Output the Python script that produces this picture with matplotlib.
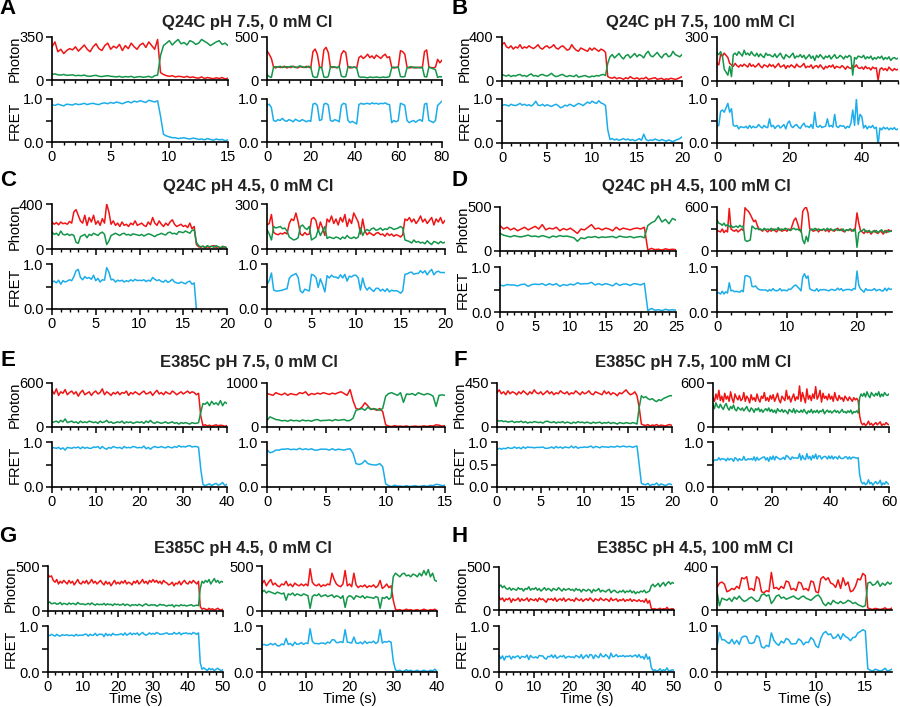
import matplotlib
matplotlib.use("Agg")
import matplotlib.pyplot as plt
from matplotlib.ticker import MultipleLocator
import numpy as np

plt.rcParams['font.family'] = ['Liberation Sans', 'DejaVu Sans']

RED = '#f01414'
GREEN = '#13964a'
BLUE = '#1badea'

# ---------------- data ----------------
# each series is sampled every *_dt seconds starting at t = 0

# A left, 0-15 s
a1_dt = 0.25
a1_red = [270, 310, 230, 250, 215, 240, 255, 245, 270, 235,
          260, 285, 250, 230, 270, 295, 255, 240, 280, 300,
          250, 275, 260, 290, 240, 280, 255, 300, 270, 250,
          285, 300, 265, 310, 280, 250, 330, 60,
          45, 35, 30, 35, 25, 30, 28, 22, 30, 20,
          25, 18, 15, 25, 12, 20, 15, 10, 18, 12, 20, 8, 15]
a1_green = [45, 50, 42, 40, 45, 38, 40, 42, 35, 38,
            35, 40, 32, 30, 35, 38, 30, 28, 32, 35,
            30, 28, 25, 30, 22, 28, 25, 30, 20, 25,
            28, 22, 25, 30, 20, 35, 40, 200,
            280, 300, 320, 285, 310, 330, 295, 305, 285, 320,
            310, 290, 300, 330, 315, 300, 280, 295, 310, 320, 290, 300, 280]
a1_fret = [0.87, 0.85, 0.88, 0.86, 0.84, 0.88, 0.87, 0.86, 0.89, 0.87,
           0.88, 0.90, 0.87, 0.89, 0.90, 0.88, 0.87, 0.90, 0.91, 0.89,
           0.92, 0.90, 0.93, 0.91, 0.89, 0.92, 0.94, 0.91, 0.95, 0.93,
           0.96, 0.94, 0.92, 0.97, 0.95, 0.93, 0.96, 0.60,
           0.18, 0.14, 0.12, 0.10, 0.10, 0.08, 0.09, 0.10, 0.08, 0.07,
           0.09, 0.08, 0.06, 0.07, 0.05, 0.08, 0.06, 0.04, 0.07, 0.05, 0.06, 0.03, 0.05]

# A right, 0-80 s
a2_dt = 1.0
a2_red = [340, 300, 250, 150, 140, 155, 145, 150, 160, 140,
          150, 145, 160, 150, 140, 155, 150, 145, 160, 150,
          140, 330, 360, 300, 150, 140, 350, 380, 320, 150,
          145, 150, 140, 155, 300, 340, 320, 150, 140, 145,
          150, 140, 260, 280, 250, 270, 300, 260, 280, 250,
          290, 270, 250, 280, 300, 260, 270, 150, 140, 145,
          150, 340, 330, 300, 150, 140, 145, 150, 140, 145,
          150, 140, 330, 350, 150, 145, 140, 150, 240, 200, 230]
a2_green = [60, 40, 30, 150, 155, 150, 160, 145, 150, 155,
            150, 160, 155, 145, 150, 165, 155, 150, 145, 160,
            150, 40, 30, 35, 150, 145, 35, 30, 40, 150,
            155, 150, 145, 160, 45, 35, 40, 150, 155, 145,
            150, 140, 40, 30, 35, 30, 25, 35, 30, 30,
            35, 30, 28, 35, 30, 32, 40, 140, 150, 145,
            150, 40, 35, 40, 140, 150, 155, 140, 150, 145,
            140, 150, 40, 35, 150, 140, 130, 120, 30, 40, 35]
a2_fret = [0.85, 0.88, 0.80, 0.50, 0.48, 0.52, 0.50, 0.55, 0.50, 0.48,
           0.52, 0.50, 0.47, 0.53, 0.50, 0.48, 0.52, 0.50, 0.47, 0.50,
           0.48, 0.88, 0.90, 0.85, 0.50, 0.52, 0.88, 0.90, 0.86, 0.50,
           0.48, 0.52, 0.50, 0.47, 0.85, 0.90, 0.88, 0.50, 0.45, 0.48,
           0.45, 0.42, 0.87, 0.90, 0.88, 0.89, 0.90, 0.88, 0.91, 0.89,
           0.90, 0.88, 0.90, 0.89, 0.91, 0.88, 0.87, 0.45, 0.50, 0.47,
           0.50, 0.90, 0.88, 0.85, 0.50, 0.45, 0.48, 0.50, 0.46, 0.50,
           0.52, 0.48, 0.88, 0.90, 0.50, 0.48, 0.45, 0.50, 0.85, 0.90, 0.95]

# B left, 0-20 s
b1_dt = 0.25
b1_red = [330, 350, 310, 300, 320, 290, 310, 300, 330, 295,
          310, 300, 320, 305, 295, 310, 330, 300, 290, 310,
          320, 300, 310, 330, 300, 290, 310, 320, 300, 280,
          290, 330, 300, 280, 270, 300, 290, 280, 270, 300,
          280, 300, 285, 270, 290, 280, 260, 40,
          30, 25, 35, 20, 30, 25, 15, 30, 20, 40,
          25, 20, 30, 15, 25, 20, 35, 15, 20, 25,
          30, 15, 20, 25, 10, 20, 15, 25, 20, 15, 20, 30, 40]
b1_green = [60, 50, 45, 55, 40, 50, 45, 55, 60, 45,
            50, 40, 55, 65, 45, 50, 40, 55, 60, 50,
            45, 55, 70, 50, 40, 45, 55, 60, 45, 40,
            50, 45, 40, 55, 35, 40, 45, 50, 40, 35,
            45, 40, 50, 45, 55, 60, 50, 160,
            220, 240, 210, 230, 250, 220, 200, 230, 240, 210,
            230, 250, 220, 240, 230, 210, 250, 270, 230, 220,
            240, 260, 230, 210, 240, 250, 220, 230, 270, 240, 230, 220, 240]
b1_fret = [0.85, 0.87, 0.86, 0.84, 0.88, 0.86, 0.85, 0.87, 0.90, 0.86,
           0.88, 0.85, 0.87, 0.84, 0.88, 0.95, 0.86, 0.85, 0.88, 0.84,
           0.87, 0.85, 0.83, 0.86, 0.88, 0.85, 0.80, 0.82, 0.86, 0.84,
           0.88, 0.86, 0.83, 0.87, 0.90, 0.88, 0.85, 0.89, 0.93, 0.90,
           0.95, 0.92, 0.90, 0.96, 0.91, 0.89, 0.85, 0.30,
           0.08, 0.10, 0.07, 0.09, 0.06, 0.08, 0.10, 0.07, 0.09, 0.06,
           0.08, 0.05, 0.07, 0.10, 0.06, 0.20, 0.08, 0.05, 0.07, 0.06,
           0.09, 0.07, 0.05, 0.08, 0.06, 0.04, 0.07, 0.05, 0.03, 0.06, 0.08, 0.10, 0.14]

# B right, 0-50 s
b2_dt = 0.5
b2_red = [120, 110, 180, 170, 190, 175, 160, 120, 110, 100,
          120, 105, 95, 110, 100, 115, 105, 95, 120, 100,
          110, 95, 105, 120, 100, 90, 110, 105, 95, 115,
          100, 110, 90, 105, 120, 95, 100, 110, 85, 105,
          95, 110, 100, 90, 115, 100, 95, 105, 120, 90,
          100, 95, 110, 85, 100, 105, 90, 110, 95, 80,
          100, 90, 105, 95, 110, 85, 100, 95, 90, 105,
          95, 80, 100, 90, 85, 105, 95, 110, 90, 85,
          95, 80, 100, 85, 90, 75, 95, 85, 90, 5,
          80, 90, 75, 85, 70, 95, 80, 70, 85, 75, 80]
b2_green = [190, 180, 200, 170, 80, 60, 40, 100, 30, 180,
            190, 175, 200, 185, 170, 210, 180, 190, 175, 200,
            180, 170, 190, 165, 185, 170, 160, 190, 175, 180,
            170, 165, 185, 160, 175, 190, 165, 150, 180, 170,
            160, 175, 190, 155, 170, 165, 180, 160, 175, 150,
            165, 180, 155, 170, 140, 175, 160, 180, 165, 150,
            170, 160, 175, 150, 165, 180, 155, 160, 175, 165,
            150, 170, 160, 175, 165, 40, 160, 150, 170, 165,
            160, 175, 150, 165, 155, 170, 145, 160, 150, 165,
            155, 170, 145, 160, 150, 165, 140, 155, 160, 150, 155]
b2_fret = [0.38, 0.40, 0.72, 0.75, 0.70, 0.80, 0.90, 0.70, 0.78, 0.40,
           0.38, 0.40, 0.32, 0.37, 0.36, 0.35, 0.38, 0.33, 0.40, 0.34,
           0.38, 0.35, 0.36, 0.42, 0.37, 0.34, 0.40, 0.36, 0.35, 0.55,
           0.37, 0.40, 0.33, 0.38, 0.40, 0.34, 0.38, 0.42, 0.32, 0.45,
           0.50, 0.38, 0.35, 0.40, 0.42, 0.36, 0.33, 0.40, 0.45, 0.37,
           0.38, 0.35, 0.42, 0.33, 0.70, 0.38, 0.36, 0.40, 0.35, 0.37,
           0.38, 0.55, 0.37, 0.40, 0.36, 0.65, 0.38, 0.35, 0.40, 0.38,
           0.39, 0.33, 0.38, 0.35, 0.45, 0.75, 0.40, 1.00, 0.42, 0.65,
           0.60, 0.34, 0.40, 0.32, 0.38, 0.35, 0.40, 0.33, 0.36, -0.05,
           0.34, 0.30, 0.36, 0.32, 0.35, 0.30, 0.34, 0.31, 0.35, 0.30, 0.32]

# C left, 0-20 s
c1_dt = 0.25
c1_red = [240, 220, 235, 215, 240, 225, 230, 220, 245, 230,
          330, 350, 300, 250, 230, 300, 210, 280, 240, 300,
          220, 250, 210, 270, 230, 400, 330, 220, 250, 210,
          230, 200, 240, 210, 220, 200, 230, 215, 250, 210,
          220, 230, 210, 200, 240, 215, 280, 230, 210, 250,
          220, 200, 230, 210, 240, 260, 220, 200, 210, 220,
          200, 210, 190, 230, 180, 200, 40,
          20, 15, 25, 10, 20, 15, 25, 30, 15, 20, 10, 15, 20, 10]
c1_green = [150, 130, 140, 120, 160, 130, 125, 135, 120, 130,
            120, 60, 50, 110, 120, 130, 100, 130, 120, 140,
            130, 120, 140, 150, 130, 40, 70, 120, 130, 140,
            130, 120, 135, 140, 125, 130, 120, 135, 130, 125,
            120, 130, 115, 125, 135, 130, 120, 110, 125, 130,
            140, 130, 125, 145, 150, 135, 140, 130, 155, 150,
            145, 160, 150, 140, 165, 170, 60,
            30, 20, 25, 15, 30, 20, 25, 15, 30, 20, 10, 25, 15, 10]
c1_fret = [0.60, 0.62, 0.58, 0.64, 0.55, 0.63, 0.60, 0.62, 0.65, 0.63,
           0.72, 0.85, 0.88, 0.70, 0.65, 0.72, 0.68, 0.70, 0.66, 0.75,
           0.63, 0.68, 0.60, 0.65, 0.64, 0.92, 0.82, 0.65, 0.66, 0.60,
           0.64, 0.62, 0.64, 0.60, 0.63, 0.61, 0.65, 0.62, 0.66, 0.63,
           0.64, 0.63, 0.65, 0.61, 0.64, 0.62, 0.70, 0.66, 0.63, 0.65,
           0.61, 0.60, 0.64, 0.59, 0.62, 0.66, 0.60, 0.58, 0.57, 0.60,
           0.58, 0.56, 0.60, 0.62, 0.55, 0.58, 0.0]

# C right, 0-20 s
c2_dt = 0.25
c2_red = [160, 170, 230, 110, 100, 95, 105, 100, 110, 100,
          170, 200, 190, 240, 180, 100, 90, 110, 95, 100,
          200, 210, 190, 120, 180, 140, 90, 200, 180, 220,
          170, 200, 160, 210, 180, 230, 150, 200, 170, 240,
          210, 180, 100, 200, 120, 95, 110, 100, 90, 105,
          110, 95, 100, 85, 105, 90, 100, 85, 95, 90,
          80, 95, 200, 190, 210, 180, 200, 170, 190, 220,
          180, 200, 170, 190, 210, 160, 200, 180, 210, 170, 190]
c2_green = [130, 100, 60, 150, 140, 145, 150, 135, 140, 120,
            80, 70, 60, 65, 75, 150, 160, 140, 130, 150,
            60, 70, 80, 130, 90, 120, 150, 70, 80, 75,
            70, 80, 75, 65, 80, 70, 90, 75, 70, 80,
            70, 80, 140, 90, 120, 130, 120, 135, 140, 125,
            130, 140, 125, 135, 130, 145, 140, 130, 135, 140,
            150, 140, 60, 55, 50, 40, 60, 45, 50, 40,
            45, 35, 55, 40, 30, 50, 45, 35, 50, 40, 45]
c2_fret = [0.55, 0.63, 0.80, 0.42, 0.40, 0.40, 0.41, 0.42, 0.44, 0.45,
           0.68, 0.74, 0.76, 0.79, 0.70, 0.40, 0.36, 0.44, 0.42, 0.40,
           0.77, 0.75, 0.70, 0.48, 0.67, 0.54, 0.38, 0.74, 0.69, 0.75,
           0.71, 0.71, 0.68, 0.76, 0.69, 0.77, 0.62, 0.73, 0.71, 0.75,
           0.75, 0.69, 0.42, 0.69, 0.50, 0.42, 0.48, 0.43, 0.39, 0.46,
           0.46, 0.40, 0.44, 0.39, 0.45, 0.38, 0.42, 0.40, 0.41, 0.39,
           0.35, 0.40, 0.77, 0.78, 0.81, 0.82, 0.77, 0.79, 0.79, 0.85,
           0.80, 0.85, 0.76, 0.83, 0.88, 0.76, 0.82, 0.84, 0.81, 0.81, 0.81]

# D left, 0-25 s
d1_dt = 0.5
d1_red = [290, 250, 270, 240, 260, 230, 250, 270, 240, 260,
          280, 250, 300, 240, 260, 250, 270, 230, 255, 240,
          260, 230, 200, 250, 240, 270, 300, 250, 260, 240,
          260, 250, 230, 270, 240, 260, 250, 240, 255, 260,
          250, 270, 10, 30, 15, 20, 10, 25, 15, 20, 15]
d1_green = [200, 180, 170, 160, 175, 165, 160, 170, 180, 165,
            170, 160, 175, 165, 150, 170, 160, 175, 165, 170,
            160, 150, 110, 150, 140, 160, 155, 165, 150, 160,
            155, 160, 165, 150, 170, 160, 155, 165, 150, 160,
            165, 150, 290, 320, 340, 400, 330, 360, 310, 370, 350]
d1_fret = [0.60, 0.58, 0.61, 0.60, 0.60, 0.58, 0.61, 0.62, 0.57, 0.61,
           0.62, 0.61, 0.63, 0.59, 0.63, 0.60, 0.63, 0.57, 0.61, 0.59,
           0.62, 0.60, 0.65, 0.62, 0.63, 0.63, 0.66, 0.60, 0.63, 0.60,
           0.63, 0.61, 0.58, 0.64, 0.59, 0.62, 0.62, 0.59, 0.63, 0.62,
           0.60, 0.64, 0.03, 0.08, 0.04, 0.05, 0.03, 0.06, 0.04, 0.05, 0.04]

# D right, 0-25 s
d2_dt = 0.25
d2_red = [280, 270, 260, 300, 250, 280, 260, 580, 300, 280,
          270, 290, 260, 280, 300, 280, 590, 560, 540, 500,
          450, 400, 420, 350, 300, 290, 270, 300, 280, 260,
          290, 270, 300, 280, 260, 290, 300, 270, 280, 290,
          270, 300, 280, 350, 420, 450, 380, 300, 260, 540,
          580, 600, 520, 300, 290, 270, 280, 300, 260, 290,
          280, 300, 270, 290, 260, 300, 280, 270, 290, 310,
          280, 300, 270, 260, 290, 280, 300, 270, 290, 310,
          520, 380, 280, 260, 240, 280, 250, 270, 230, 260,
          280, 250, 240, 270, 260, 230, 280, 250, 290, 270, 280]
d2_green = [420, 380, 370, 350, 380, 340, 360, 330, 350, 320,
            330, 340, 320, 350, 330, 340, 150, 130, 140, 150,
            340, 320, 300, 310, 290, 300, 280, 310, 290, 300,
            290, 310, 280, 300, 290, 320, 280, 300, 290, 310,
            300, 290, 280, 300, 310, 290, 300, 280, 290, 150,
            100, 200, 130, 280, 300, 290, 310, 280, 300, 290,
            290, 300, 280, 310, 290, 300, 280, 290, 300, 280,
            290, 280, 300, 270, 290, 280, 300, 290, 270, 300,
            50, 250, 270, 280, 300, 260, 270, 280, 250, 270,
            260, 280, 250, 270, 290, 260, 250, 280, 260, 270, 270]
d2_fret = [0.42, 0.43, 0.40, 0.46, 0.40, 0.45, 0.42, 0.65, 0.47, 0.48,
           0.45, 0.46, 0.45, 0.44, 0.48, 0.45, 0.80, 0.81, 0.79, 0.77,
           0.57, 0.56, 0.58, 0.53, 0.50, 0.49, 0.49, 0.49, 0.49, 0.46,
           0.50, 0.47, 0.52, 0.48, 0.47, 0.48, 0.52, 0.47, 0.49, 0.48,
           0.47, 0.51, 0.50, 0.54, 0.58, 0.60, 0.56, 0.52, 0.47, 0.78,
           0.85, 0.75, 0.80, 0.52, 0.49, 0.48, 0.47, 0.52, 0.46, 0.50,
           0.49, 0.50, 0.49, 0.48, 0.47, 0.50, 0.50, 0.48, 0.49, 0.53,
           0.49, 0.52, 0.47, 0.49, 0.50, 0.50, 0.50, 0.48, 0.52, 0.51,
           0.91, 0.60, 0.51, 0.48, 0.44, 0.52, 0.48, 0.49, 0.48, 0.49,
           0.52, 0.47, 0.49, 0.50, 0.47, 0.47, 0.53, 0.47, 0.53, 0.50, 0.51]

# E left, 0-40 s
e1_dt = 0.5
e1_red = [500, 450, 520, 430, 480, 460, 510, 440, 470, 490,
          450, 480, 420, 470, 500, 440, 460, 480, 430, 470,
          490, 450, 470, 520, 440, 480, 460, 430, 470, 450,
          480, 440, 470, 460, 490, 430, 470, 450, 480, 460,
          440, 470, 490, 450, 460, 480, 430, 470, 500, 450,
          470, 440, 480, 460, 450, 490, 470, 440, 460, 480,
          450, 470, 490, 460, 480, 470, 440, 460, 150, 20,
          30, 15, 25, 10, 20, 30, 15, 25, 20, 10, 20]
e1_green = [60, 70, 80, 60, 90, 70, 110, 60, 70, 80,
            60, 70, 50, 80, 60, 70, 60, 80, 70, 60,
            70, 50, 80, 60, 70, 90, 60, 70, 50, 60,
            70, 60, 80, 50, 70, 60, 70, 50, 60, 70,
            60, 70, 50, 80, 60, 90, 60, 50, 70, 60,
            50, 60, 70, 50, 60, 70, 50, 60, 40, 60,
            50, 60, 50, 40, 60, 50, 50, 60, 200, 320,
            310, 340, 290, 350, 310, 330, 300, 360, 290, 340, 320]
e1_fret = [0.88, 0.87, 0.86, 0.88, 0.84, 0.87, 0.82, 0.88, 0.87, 0.86,
           0.88, 0.87, 0.89, 0.85, 0.89, 0.86, 0.88, 0.86, 0.86, 0.89,
           0.88, 0.90, 0.85, 0.90, 0.86, 0.84, 0.88, 0.86, 0.90, 0.88,
           0.87, 0.88, 0.85, 0.90, 0.87, 0.88, 0.87, 0.90, 0.89, 0.87,
           0.88, 0.87, 0.91, 0.85, 0.88, 0.84, 0.88, 0.90, 0.88, 0.88,
           0.90, 0.88, 0.87, 0.90, 0.88, 0.87, 0.90, 0.88, 0.92, 0.89,
           0.90, 0.89, 0.91, 0.92, 0.89, 0.90, 0.90, 0.88, 0.40, 0.06,
           0.03, 0.05, 0.07, 0.03, 0.06, 0.08, 0.04, 0.06, 0.10, 0.03, 0.06]

# E right, 0-15 s
e2_dt = 0.25
e2_red = [760, 740, 720, 780, 750, 730, 770, 720, 760, 740,
          730, 780, 760, 800, 720, 760, 740, 770, 750, 780,
          760, 740, 770, 750, 780, 800, 760, 720, 850, 600,
          420, 400, 450, 550, 480, 400, 410, 380, 420, 350,
          50, 20, 10, 30, 15, 20, 10, 25, 5, 15,
          20, 10, 15, 25, 10, 30, 20, 50, 40, 20, 30]
e2_green = [150, 230, 200, 170, 160, 140, 150, 130, 160, 140,
            150, 130, 160, 140, 150, 130, 160, 170, 140, 150,
            150, 160, 140, 170, 150, 160, 170, 140, 150, 200,
            380, 400, 420, 380, 450, 400, 420, 400, 380, 420,
            700, 760, 780, 750, 720, 780, 560, 750, 740, 760,
            720, 780, 750, 730, 760, 740, 700, 470, 720, 730, 720]
e2_fret = [0.83, 0.76, 0.78, 0.82, 0.82, 0.84, 0.84, 0.85, 0.83, 0.84,
           0.83, 0.86, 0.83, 0.85, 0.83, 0.85, 0.82, 0.82, 0.84, 0.84,
           0.84, 0.82, 0.85, 0.82, 0.84, 0.83, 0.82, 0.84, 0.85, 0.75,
           0.52, 0.50, 0.52, 0.59, 0.52, 0.50, 0.49, 0.49, 0.52, 0.45,
           0.07, 0.03, 0.01, 0.04, 0.02, 0.02, 0.01, 0.03, 0.01, 0.02,
           0.03, 0.01, 0.02, 0.03, 0.01, 0.04, 0.03, 0.06, 0.05, 0.03, 0.04]

# F left, 0-20 s
f1_dt = 0.25
f1_red = [350, 380, 340, 360, 330, 370, 340, 360, 350, 330,
          360, 340, 370, 350, 330, 360, 340, 380, 350, 340,
          360, 330, 350, 370, 340, 360, 330, 350, 340, 370,
          350, 340, 360, 330, 350, 340, 370, 350, 330, 360,
          340, 350, 370, 340, 330, 360, 350, 340, 330, 370,
          340, 360, 330, 350, 340, 320, 350, 340, 360, 380,
          350, 330, 340, 360, 320, 200, 30, 20, 15, 25,
          10, 20, 15, 25, 10, 20, 15, 10, 20, 25, 15]
f1_green = [70, 60, 65, 55, 60, 50, 55, 60, 45, 55,
            50, 60, 45, 55, 40, 50, 45, 55, 50, 45,
            50, 40, 55, 60, 50, 45, 55, 40, 50, 45,
            55, 40, 50, 45, 35, 50, 40, 55, 45, 50,
            40, 50, 45, 35, 50, 40, 45, 50, 35, 45,
            40, 50, 35, 45, 40, 30, 45, 40, 35, 45,
            40, 35, 45, 40, 30, 200, 320, 300, 310, 290,
            280, 290, 270, 260, 280, 270, 290, 300, 310, 320, 320]
f1_fret = [0.83, 0.86, 0.84, 0.86, 0.85, 0.88, 0.86, 0.86, 0.89, 0.86,
           0.88, 0.85, 0.89, 0.86, 0.89, 0.88, 0.88, 0.87, 0.88, 0.88,
           0.88, 0.89, 0.86, 0.86, 0.87, 0.89, 0.86, 0.90, 0.87, 0.89,
           0.86, 0.89, 0.88, 0.87, 0.91, 0.87, 0.90, 0.86, 0.88, 0.88,
           0.89, 0.88, 0.89, 0.91, 0.87, 0.90, 0.89, 0.87, 0.90, 0.89,
           0.89, 0.88, 0.90, 0.89, 0.89, 0.91, 0.89, 0.90, 0.91, 0.89,
           0.90, 0.90, 0.88, 0.90, 0.91, 0.50, 0.08, 0.06, 0.05, 0.08,
           0.03, 0.06, 0.05, 0.09, 0.03, 0.07, 0.05, 0.03, 0.06, 0.07, 0.05]

# F right, 0-60 s
f2_dt = 0.5
f2_red = [400, 350, 450, 380, 500, 360, 420, 340, 460, 380,
          420, 350, 480, 390, 330, 450, 400, 370, 430, 360,
          380, 470, 350, 420, 390, 330, 440, 370, 400, 350,
          450, 380, 340, 420, 390, 470, 360, 400, 350, 430,
          380, 440, 350, 400, 460, 370, 330, 420, 390, 360,
          500, 380, 420, 340, 400, 450, 360, 410, 380, 560,
          350, 470, 400, 330, 520, 380, 430, 360, 450, 390,
          550, 380, 420, 500, 340, 460, 390, 420, 370, 450,
          380, 420, 350, 470, 390, 360, 430, 380, 400, 350,
          420, 390, 360, 410, 380, 350, 400, 370, 390, 360,
          150, 60, 30, 50, 20, 40, 80, 30, 50, 20,
          40, 60, 30, 50, 70, 20, 40, 30, 60, 40, 30]
f2_green = [300, 250, 330, 280, 260, 310, 270, 240, 290, 320,
            260, 230, 280, 250, 300, 240, 220, 270, 250, 230,
            260, 220, 250, 280, 230, 210, 260, 240, 200, 250,
            230, 260, 210, 240, 200, 230, 250, 220, 260, 210,
            240, 200, 230, 190, 250, 220, 210, 240, 200, 230,
            210, 180, 240, 220, 200, 250, 190, 230, 210, 200,
            230, 200, 240, 210, 180, 220, 200, 240, 190, 220,
            200, 230, 190, 220, 210, 240, 180, 210, 230, 200,
            220, 190, 210, 230, 200, 220, 190, 210, 240, 200,
            210, 190, 220, 200, 230, 180, 210, 200, 220, 190,
            400, 450, 420, 460, 410, 480, 430, 400, 470, 440,
            420, 460, 430, 480, 410, 450, 420, 470, 440, 430, 450]
f2_fret = [0.57, 0.60, 0.60, 0.60, 0.65, 0.60, 0.63, 0.62, 0.62, 0.58,
           0.64, 0.60, 0.63, 0.62, 0.57, 0.65, 0.63, 0.58, 0.63, 0.60,
           0.60, 0.68, 0.60, 0.60, 0.63, 0.61, 0.63, 0.60, 0.67, 0.58,
           0.66, 0.60, 0.62, 0.64, 0.66, 0.67, 0.60, 0.65, 0.57, 0.67,
           0.61, 0.69, 0.60, 0.68, 0.65, 0.63, 0.61, 0.63, 0.66, 0.61,
           0.70, 0.68, 0.64, 0.61, 0.67, 0.64, 0.65, 0.64, 0.64, 0.74,
           0.60, 0.70, 0.63, 0.61, 0.74, 0.63, 0.68, 0.60, 0.70, 0.64,
           0.73, 0.62, 0.69, 0.69, 0.62, 0.66, 0.68, 0.67, 0.62, 0.69,
           0.63, 0.69, 0.62, 0.67, 0.66, 0.62, 0.69, 0.64, 0.63, 0.64,
           0.67, 0.67, 0.62, 0.67, 0.62, 0.66, 0.66, 0.65, 0.64, 0.65,
           0.27, 0.12, 0.07, 0.10, 0.05, 0.08, 0.16, 0.07, 0.10, 0.04,
           0.09, 0.12, 0.07, 0.09, 0.15, 0.04, 0.09, 0.06, 0.12, 0.08, 0.06]

# G left, 0-50 s
g1_dt = 0.5
g1_red = [400, 380, 390, 340, 320, 350, 300, 330, 310, 340,
          320, 300, 340, 310, 330, 290, 320, 350, 310, 300,
          330, 310, 340, 300, 320, 350, 310, 330, 300, 320,
          340, 310, 290, 330, 300, 320, 280, 310, 340, 300,
          320, 300, 330, 310, 340, 300, 320, 310, 290, 330,
          310, 340, 300, 320, 350, 310, 330, 300, 340, 320,
          350, 320, 340, 310, 330, 300, 340, 320, 310, 290,
          300, 320, 280, 310, 300, 330, 290, 320, 340, 310,
          300, 330, 310, 340, 320, 300, 330, 50, 20, 30,
          20, 10, 30, 15, 25, 10, 20, 30, 15, 10, 20]
g1_green = [90, 100, 80, 85, 90, 75, 80, 95, 70, 85,
            80, 70, 90, 75, 85, 80, 70, 95, 80, 75,
            80, 70, 75, 85, 70, 90, 75, 65, 80, 70,
            75, 70, 85, 65, 80, 70, 75, 60, 80, 70,
            75, 65, 70, 80, 60, 75, 70, 55, 70, 65,
            70, 60, 75, 65, 55, 70, 80, 65, 60, 70,
            65, 70, 55, 60, 75, 65, 70, 60, 55, 65,
            60, 70, 45, 65, 60, 55, 70, 60, 65, 55,
            60, 65, 70, 55, 60, 65, 60, 250, 330, 310,
            340, 320, 350, 300, 330, 360, 320, 340, 310, 330, 320]
g1_fret = [0.80, 0.79, 0.82, 0.80, 0.78, 0.82, 0.79, 0.78, 0.81, 0.80,
           0.80, 0.81, 0.79, 0.80, 0.80, 0.78, 0.82, 0.79, 0.80, 0.80,
           0.80, 0.82, 0.82, 0.78, 0.82, 0.80, 0.80, 0.84, 0.79, 0.82,
           0.82, 0.82, 0.77, 0.84, 0.79, 0.82, 0.79, 0.84, 0.81, 0.81,
           0.81, 0.82, 0.83, 0.80, 0.85, 0.80, 0.82, 0.85, 0.81, 0.84,
           0.82, 0.85, 0.80, 0.83, 0.86, 0.82, 0.80, 0.82, 0.85, 0.82,
           0.84, 0.82, 0.86, 0.84, 0.82, 0.82, 0.83, 0.84, 0.85, 0.82,
           0.83, 0.82, 0.86, 0.83, 0.83, 0.86, 0.81, 0.84, 0.84, 0.85,
           0.83, 0.84, 0.82, 0.86, 0.84, 0.82, 0.85, 0.20, 0.06, 0.09,
           0.06, 0.03, 0.08, 0.05, 0.07, 0.03, 0.06, 0.08, 0.05, 0.03, 0.05]

# G right, 0-40 s
g2_dt = 0.5
g2_red = [300, 340, 280, 320, 350, 290, 310, 280, 270, 300,
          290, 330, 280, 300, 270, 310, 290, 280, 300, 280,
          300, 280, 470, 320, 290, 280, 300, 270, 290, 280,
          300, 290, 420, 350, 300, 280, 270, 300, 450, 280,
          300, 270, 420, 290, 260, 280, 270, 290, 260, 280,
          270, 290, 260, 280, 340, 250, 270, 300, 260, 280,
          120, 20, 10, 15, 5, 10, 20, 10, 15, 5,
          10, 15, 5, 10, 20, 10, 5, 15, 10, 20, 5]
g2_green = [210, 230, 200, 220, 210, 200, 190, 210, 200, 190,
            200, 120, 190, 180, 200, 170, 190, 180, 170, 190,
            180, 170, 30, 160, 180, 170, 190, 160, 170, 180,
            160, 170, 180, 150, 170, 160, 140, 170, 40, 150,
            170, 160, 130, 170, 160, 150, 170, 140, 160, 150,
            150, 140, 160, 150, 30, 150, 140, 160, 130, 150,
            380, 420, 400, 380, 410, 420, 390, 400, 380, 410,
            400, 380, 420, 390, 450, 400, 460, 380, 420, 340, 330]
g2_fret = [0.59, 0.60, 0.58, 0.59, 0.62, 0.59, 0.62, 0.57, 0.57, 0.61,
           0.59, 0.73, 0.60, 0.62, 0.57, 0.65, 0.60, 0.61, 0.64, 0.60,
           0.63, 0.62, 0.94, 0.67, 0.62, 0.62, 0.61, 0.63, 0.63, 0.61,
           0.65, 0.63, 0.70, 0.70, 0.64, 0.64, 0.66, 0.64, 0.92, 0.65,
           0.64, 0.63, 0.76, 0.63, 0.62, 0.65, 0.61, 0.67, 0.62, 0.65,
           0.64, 0.67, 0.62, 0.65, 0.92, 0.63, 0.66, 0.65, 0.67, 0.65,
           0.24, 0.05, 0.02, 0.04, 0.01, 0.02, 0.05, 0.02, 0.04, 0.01,
           0.02, 0.04, 0.01, 0.02, 0.04, 0.02, 0.01, 0.04, 0.02, 0.06, 0.02]

# H left, 0-50 s
h1_dt = 0.5
h1_red = [150, 120, 140, 100, 130, 120, 140, 90, 130, 110,
          120, 140, 100, 130, 110, 120, 140, 100, 130, 120,
          110, 130, 100, 140, 120, 130, 110, 90, 130, 120,
          130, 110, 140, 100, 120, 130, 110, 140, 100, 120,
          130, 110, 120, 100, 140, 120, 110, 130, 100, 120,
          130, 110, 140, 120, 100, 130, 120, 110, 140, 120,
          110, 130, 120, 100, 140, 110, 120, 130, 100, 120,
          110, 130, 100, 120, 110, 130, 100, 120, 110, 100,
          120, 100, 110, 90, 130, 80, 110, 20, 10, 15,
          5, 10, 20, 5, 15, 10, 30, 5, 10, 15, 10]
h1_green = [270, 290, 260, 280, 250, 240, 260, 230, 250, 240,
            230, 260, 240, 250, 220, 250, 240, 270, 230, 250,
            240, 260, 230, 250, 220, 240, 260, 230, 250, 240,
            220, 250, 240, 230, 260, 240, 220, 250, 230, 240,
            250, 230, 240, 220, 250, 230, 240, 210, 240, 230,
            220, 240, 230, 200, 240, 220, 230, 250, 210, 230,
            220, 210, 230, 240, 200, 220, 230, 210, 200, 220,
            210, 230, 200, 220, 210, 230, 200, 220, 190, 210,
            200, 220, 210, 230, 200, 210, 220, 280, 300, 270,
            290, 310, 270, 300, 320, 280, 310, 330, 300, 320, 310]
h1_fret = [0.36, 0.29, 0.35, 0.26, 0.34, 0.33, 0.35, 0.28, 0.34, 0.31,
           0.34, 0.35, 0.29, 0.34, 0.33, 0.32, 0.37, 0.27, 0.36, 0.32,
           0.31, 0.33, 0.30, 0.36, 0.35, 0.35, 0.30, 0.28, 0.34, 0.33,
           0.37, 0.31, 0.37, 0.30, 0.32, 0.35, 0.33, 0.36, 0.30, 0.33,
           0.34, 0.32, 0.33, 0.31, 0.36, 0.34, 0.31, 0.38, 0.29, 0.34,
           0.37, 0.31, 0.38, 0.37, 0.29, 0.37, 0.34, 0.31, 0.40, 0.34,
           0.33, 0.38, 0.34, 0.29, 0.41, 0.33, 0.34, 0.38, 0.33, 0.35,
           0.34, 0.36, 0.33, 0.35, 0.34, 0.36, 0.33, 0.35, 0.37, 0.32,
           0.38, 0.31, 0.34, 0.28, 0.39, 0.28, 0.33, 0.10, 0.03, 0.05,
           0.02, 0.03, 0.07, 0.02, 0.05, 0.03, 0.09, 0.02, 0.03, 0.05, 0.03]

# H right, 0-17.75 s
h2_dt = 0.25
h2_red = [210, 250, 260, 240, 170, 180, 200, 190, 220, 200,
          300, 290, 310, 190, 200, 180, 310, 290, 170, 160,
          180, 170, 350, 200, 210, 190, 220, 200, 270, 260,
          190, 200, 180, 260, 250, 190, 200, 180, 270, 260,
          170, 160, 290, 310, 280, 300, 250, 240, 210, 280,
          200, 300, 230, 260, 170, 180, 220, 290, 280, 340,
          320, 20, 10, 5, 15, 10, 5, 10, 20, 5, 10, 20]
h2_green = [170, 40, 110, 100, 90, 110, 80, 120, 100, 130,
            100, 80, 90, 110, 120, 100, 80, 90, 140, 150,
            130, 140, 60, 90, 130, 140, 110, 120, 100, 110,
            120, 130, 110, 100, 120, 130, 110, 100, 90, 110,
            130, 140, 110, 60, 40, 70, 50, 90, 70, 60,
            80, 60, 70, 90, 80, 60, 70, 50, 40, 30,
            40, 250, 260, 230, 240, 270, 220, 250, 230, 260, 240, 260]
h2_fret = [0.55, 0.86, 0.70, 0.70, 0.65, 0.62, 0.71, 0.61, 0.69, 0.60,
           0.75, 0.78, 0.77, 0.63, 0.62, 0.64, 0.79, 0.76, 0.55, 0.52,
           0.58, 0.55, 0.85, 0.69, 0.62, 0.58, 0.67, 0.63, 0.73, 0.70,
           0.61, 0.61, 0.62, 0.72, 0.68, 0.59, 0.65, 0.64, 0.75, 0.70,
           0.57, 0.53, 0.73, 0.84, 0.88, 0.81, 0.83, 0.73, 0.75, 0.82,
           0.71, 0.83, 0.77, 0.74, 0.68, 0.75, 0.76, 0.85, 0.88, 0.92,
           0.89, 0.07, 0.04, 0.02, 0.06, 0.04, 0.02, 0.04, 0.08, 0.02, 0.04, 0.07]


# ---------------- axis settings per trace ----------------
def tr(x0, x1, dt, red, green, fret, xmax, major, minor, ymax, ymid=None, fret_mid_label=False):
    return dict(x0=x0, x1=x1, dt=dt, red=red, green=green, fret=fret, xmax=xmax,
                major=major, minor=minor, ymax=ymax, ymid=ymid, fmid=fret_mid_label)


panels = [
    ('A', 'Q24C pH 7.5, 0 mM Cl', 0, 9, 22, (37, 80, 99, 142),
     [tr(52, 228, a1_dt, a1_red, a1_green, a1_fret, 15, 5, 1, 350),
      tr(267, 442, a2_dt, a2_red, a2_green, a2_fret, 80, 20, 5, 500)], False),
    ('B', 'Q24C pH 7.5, 100 mM Cl', 452, 9, 22, (37, 81, 99, 143),
     [tr(502, 682, b1_dt, b1_red, b1_green, b1_fret, 20, 5, 1, 400),
      tr(717, 898, b2_dt, b2_red, b2_green, b2_fret, 50, 20, 5, 300)], False),
    ('C', 'Q24C pH 4.5, 0 mM Cl', 0, 180, 187, (204, 249, 264, 309),
     [tr(52, 227, c1_dt, c1_red, c1_green, c1_fret, 20, 5, 1, 400),
      tr(267, 445, c2_dt, c2_red, c2_green, c2_fret, 20, 5, 1, 300)], False),
    ('D', 'Q24C pH 4.5, 100 mM Cl', 452, 180, 187, (207, 251, 267, 312),
     [tr(500, 676, d1_dt, d1_red, d1_green, d1_fret, 25, 5, 1, 500),
      tr(717, 892, d2_dt, d2_red, d2_green, d2_fret, 25, 10, 2, 600, 300)], False),
    ('E', 'E385C pH 7.5, 0 mM Cl', 0, 360, 363, (383, 427, 442, 487),
     [tr(52, 227, e1_dt, e1_red, e1_green, e1_fret, 40, 10, 2, 600),
      tr(267, 445, e2_dt, e2_red, e2_green, e2_fret, 15, 5, 1, 1000)], False),
    ('F', 'E385C pH 7.5, 100 mM Cl', 452, 360, 363, (383, 427, 442, 487),
     [tr(497, 672, f1_dt, f1_red, f1_green, f1_fret, 20, 5, 1, 450, fret_mid_label=True),
      tr(713, 889, f2_dt, f2_red, f2_green, f2_fret, 60, 20, 5, 600)], False),
    ('G', 'E385C pH 4.5, 0 mM Cl', 0, 536, 548, (566, 611, 626, 672),
     [tr(48, 223, g1_dt, g1_red, g1_green, g1_fret, 50, 10, 2, 500),
      tr(262, 437, g2_dt, g2_red, g2_green, g2_fret, 40, 10, 2, 500)], True),
    ('H', 'E385C pH 4.5, 100 mM Cl', 452, 536, 548, (567, 610, 626, 672),
     [tr(499, 674, h1_dt, h1_red, h1_green, h1_fret, 50, 10, 2, 500),
      tr(717, 892, h2_dt, h2_red, h2_green, h2_fret, 17.7, 5, 1, 400)], True),
]

W, H = 900, 707
fig = plt.figure(figsize=(W / 100, H / 100), dpi=100)


def box(x0, x1, ytop, ybot):
    return [x0 / W, 1 - ybot / H, (x1 - x0) / W, (ybot - ytop) / H]


def style(ax, t):
    for s in ('top', 'right'):
        ax.spines[s].set_visible(False)
    for s in ('left', 'bottom'):
        ax.spines[s].set_linewidth(1.2)
    ax.xaxis.set_major_locator(MultipleLocator(t['major']))
    ax.xaxis.set_minor_locator(MultipleLocator(t['minor']))
    ax.set_xlim(0, t['xmax'])
    ax.tick_params(which='major', direction='out', length=4, width=1.1,
                   labelsize=10.5, pad=2)
    ax.tick_params(which='minor', direction='out', length=2.5, width=1.0)


FS = 10.5
for letter, title, lx, ly, ty, rows, traces, time_lbl in panels:
    ptop, pbot, ftop, fbot = rows
    fig.text((lx + 8) / W, 1 - ly / H, letter, fontsize=16, fontweight='bold',
             ha='center', va='center')
    cx = (traces[0]['x0'] + traces[1]['x1']) / 2
    fig.text(cx / W, 1 - ty / H, title, fontsize=12, fontweight='bold',
             ha='center', va='center', color='#222222')
    for k, t in enumerate(traces):
        ax1 = fig.add_axes(box(t['x0'], t['x1'], ptop, pbot))
        ax2 = fig.add_axes(box(t['x0'], t['x1'], ftop, fbot))
        tr_ = np.arange(len(t['red'])) * t['dt']
        tg_ = np.arange(len(t['green'])) * t['dt']
        tf_ = np.arange(len(t['fret'])) * t['dt']
        ax1.plot(tr_, t['red'], color=RED, lw=1.1)
        ax1.plot(tg_, t['green'], color=GREEN, lw=1.1)
        ax2.plot(tf_, t['fret'], color=BLUE, lw=1.1)
        style(ax1, t)
        style(ax2, t)
        ax1.set_ylim(0, t['ymax'])
        if t['ymid'] is None:
            ax1.set_yticks([0, t['ymax']], ['0', str(t['ymax'])])
        else:
            ax1.set_yticks([0, t['ymid'], t['ymax']], ['0', '', str(t['ymax'])])
        ax1.tick_params(axis='x', labelbottom=False)
        ax2.set_ylim(0, 1)
        ax2.set_yticks([0, 0.5, 1.0], ['0.0', '0.5' if t['fmid'] else '', '1.0'])
        ax2.set_xlim(0, t['xmax'])
        if time_lbl:
            ax2.set_xlabel('Time (s)', fontsize=FS, labelpad=-2)
        if k == 0:
            xl = t['x0'] - 37
            fig.text(xl / W, 1 - (ptop + pbot) / 2 / H, 'Photon', rotation=90,
                     fontsize=FS, ha='center', va='center')
            fig.text(xl / W, 1 - (ftop + fbot) / 2 / H, 'FRET', rotation=90,
                     fontsize=FS, ha='center', va='center')

fig.savefig('out.png', dpi=100)
